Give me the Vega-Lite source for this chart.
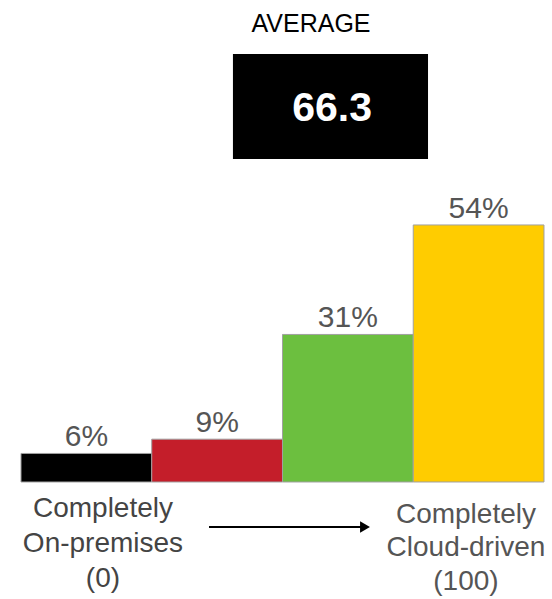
{
  "$schema": "https://vega.github.io/schema/vega-lite/v6.json",
  "width": 552,
  "height": 599,
  "autosize": {"type": "fit", "contains": "padding"},
  "padding": 0,
  "background": "white",
  "config": {"view": {"stroke": null}, "axis": {"disable": true}},
  "encoding": {
    "x": {"field": "x", "type": "quantitative", "scale": {"domain": [-0.1606, 4.0612], "nice": false, "zero": false}, "axis": null},
    "y": {"field": "y", "type": "quantitative", "scale": {"domain": [-24.58, 101.26], "nice": false, "zero": false}, "axis": null}
  },
  "layer": [
    {
      "data": {"values": [
        {"level": "Completely on-premises", "x": 0, "x2": 1, "mid": 0.5, "y": 6, "label": "6%"},
        {"level": "Mostly on-premises", "x": 1, "x2": 2, "mid": 1.5, "y": 9, "label": "9%"},
        {"level": "Mostly cloud", "x": 2, "x2": 3, "mid": 2.5, "y": 31, "label": "31%"},
        {"level": "Completely cloud-driven", "x": 3, "x2": 4, "mid": 3.5, "y": 54, "label": "54%"}
      ]},
      "layer": [
        {
          "mark": {"type": "rect", "stroke": "#a0a0a0", "strokeWidth": 1},
          "encoding": {
            "x2": {"field": "x2"},
            "y2": {"datum": 0},
            "color": {"field": "level", "type": "nominal", "legend": null,
              "scale": {"domain": ["Completely on-premises", "Mostly on-premises", "Mostly cloud", "Completely cloud-driven"],
                        "range": ["#000000", "#c41e2a", "#6cbf3f", "#ffcc00"]}}
          }
        },
        {
          "mark": {"type": "text", "font": "Liberation Sans", "fontSize": 30, "color": "#555555", "baseline": "alphabetic", "align": "center", "dy": -7},
          "encoding": {
            "x": {"field": "mid", "type": "quantitative"},
            "text": {"field": "label"}
          }
        }
      ]
    },
    {
      "data": {"values": [{"x": 1.621, "x2": 3.113, "y": 89.92, "y2": 67.86}]},
      "mark": {"type": "rect", "color": "#000000"},
      "encoding": {"x2": {"field": "x2"}, "y2": {"field": "y2"}}
    },
    {
      "data": {"values": [{"x": 2.218, "y": 94.54, "t": "AVERAGE"}]},
      "mark": {"type": "text", "font": "Liberation Sans", "fontSize": 25, "color": "#000000", "align": "center", "baseline": "alphabetic"},
      "encoding": {"text": {"field": "t"}}
    },
    {
      "data": {"values": [{"x": 2.379, "y": 75.84, "t": "66.3"}]},
      "mark": {"type": "text", "font": "Liberation Sans", "fontSize": 41, "fontWeight": "bold", "color": "#ffffff", "align": "center", "baseline": "alphabetic"},
      "encoding": {"text": {"field": "t"}}
    },
    {
      "data": {"values": [
        {"x": 0.627, "y": -7.35, "t": "Completely\nOn-premises\n(0)"}
      ]},
      "mark": {"type": "text", "font": "Liberation Sans", "fontSize": 28, "color": "#444444", "align": "center", "baseline": "alphabetic", "lineBreak": "\n", "lineHeight": 35},
      "encoding": {"text": {"field": "t"}}
    },
    {
      "data": {"values": [
        {"x": 3.403, "y": -8.61, "t": "Completely\nCloud-driven\n(100)"}
      ]},
      "mark": {"type": "text", "font": "Liberation Sans", "fontSize": 28, "color": "#555555", "align": "center", "baseline": "alphabetic", "lineBreak": "\n", "lineHeight": 33.5},
      "encoding": {"text": {"field": "t"}}
    },
    {
      "data": {"values": [{"x": 1.438, "x2": 2.631, "y": -9.45}]},
      "mark": {"type": "rule", "color": "#000000", "strokeWidth": 2},
      "encoding": {"x2": {"field": "x2"}}
    },
    {
      "data": {"values": [{"x": 2.631, "y": -9.45}]},
      "mark": {"type": "point", "shape": "triangle-right", "filled": true, "color": "#000000", "size": 130, "opacity": 1},
      "encoding": {}
    }
  ]
}
